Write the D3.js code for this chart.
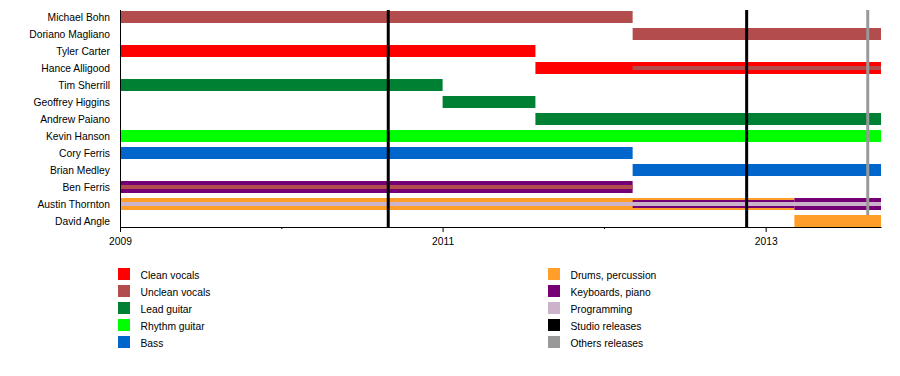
<!DOCTYPE html>
<html>
<head>
<meta charset="utf-8">
<script src="https://cdn.jsdelivr.net/npm/d3@7"></script>
<style>
  html, body { margin: 0; padding: 0; background: #fff; }
  svg { display: block; font-family: "Liberation Sans", Arial, sans-serif; }
</style>
</head>
<body>
<svg id="chart" width="900" height="376"></svg>
<script>
// ---- Data ----
const members = ["Michael Bohn","Doriano Magliano","Tyler Carter","Hance Alligood","Tim Sherrill",
  "Geoffrey Higgins","Andrew Paiano","Kevin Hanson","Cory Ferris","Brian Medley","Ben Ferris",
  "Austin Thornton","David Angle"];

const roles = ["Clean vocals","Unclean vocals","Lead guitar","Rhythm guitar","Bass",
  "Drums, percussion","Keyboards, piano","Programming","Studio releases","Others releases"];

const roleColors = ["#ff0000","#b34d4d","#008033","#00ff00","#0066cc",
  "#ff9f29","#750075","#ccb3cc","#000000","#999999"];

const periodStart = "2009-01-01";
const periodEnd = "2013-09-19";

const majorTickYears = ["2009","2011","2013"];
const minorTickYears = ["2010","2012"];

// member, role, from, till, layer (0 = main bar, 1 = middle, 2 = inner)
const spells = [
  ["Michael Bohn","Unclean vocals","2009-01-01","2012-03-06",0],
  ["Doriano Magliano","Unclean vocals","2012-03-06","2013-09-19",0],
  ["Tyler Carter","Clean vocals","2009-01-01","2011-07-30",0],
  ["Hance Alligood","Clean vocals","2011-07-30","2013-09-19",0],
  ["Hance Alligood","Unclean vocals","2012-03-06","2013-09-19",2],
  ["Tim Sherrill","Lead guitar","2009-01-01","2011-01-01",0],
  ["Geoffrey Higgins","Lead guitar","2011-01-01","2011-07-30",0],
  ["Andrew Paiano","Lead guitar","2011-07-30","2013-09-19",0],
  ["Kevin Hanson","Rhythm guitar","2009-01-01","2013-09-19",0],
  ["Cory Ferris","Bass","2009-01-01","2012-03-06",0],
  ["Brian Medley","Bass","2012-03-06","2013-09-19",0],
  ["Ben Ferris","Keyboards, piano","2009-01-01","2012-03-06",0],
  ["Ben Ferris","Unclean vocals","2009-01-01","2012-03-06",2],
  ["Austin Thornton","Drums, percussion","2009-01-01","2013-03-07",0],
  ["Austin Thornton","Keyboards, piano","2013-03-07","2013-09-19",0],
  ["Austin Thornton","Keyboards, piano","2012-03-06","2013-03-07",1],
  ["Austin Thornton","Programming","2009-01-01","2013-09-19",2],
  ["David Angle","Drums, percussion","2013-03-07","2013-09-19",0]
];

// release lines: date, type
const releases = [
  ["2010-08-31","Studio releases"],
  ["2012-11-19","Studio releases"],
  ["2013-08-20","Others releases"]
];

// ---- Drawing ----
const parse = d3.timeParse("%Y-%m-%d");
const parseYear = d3.timeParse("%Y");
const svg = d3.select("#chart");
const plotLeft = 120, plotRight = 881, plotTop = 10, plotBottom = 227;

const x = d3.scaleTime().domain([parse(periodStart), parse(periodEnd)]).range([plotLeft, plotRight]);
const y = d3.scaleBand().domain(members).range([plotTop - 1.5, plotBottom + 2.5]);
const color = d3.scaleOrdinal().domain(roles).range(roleColors);
const thickness = [12, 8, 4];

// bars
const bars = spells.slice().sort((a, b) => a[4] - b[4]);
svg.append("g").selectAll("rect").data(bars).join("rect")
  .attr("x", d => x(parse(d[2])))
  .attr("width", d => x(parse(d[3])) - x(parse(d[2])))
  .attr("y", d => y(d[0]) + y.bandwidth() / 2 - thickness[d[4]] / 2)
  .attr("height", d => thickness[d[4]])
  .attr("fill", d => color(d[1]));

// release lines
svg.append("g").selectAll("line").data(releases).join("line")
  .attr("x1", d => x(parse(d[0]))).attr("x2", d => x(parse(d[0])))
  .attr("y1", plotTop)
  .attr("y2", d => d[1] === "Studio releases" ? plotBottom : y("David Angle") + y.bandwidth() / 2 - 6)
  .attr("stroke", d => color(d[1]))
  .attr("stroke-width", 3);

// left axis line
svg.append("line").attr("x1", plotLeft + 0.5).attr("x2", plotLeft + 0.5)
  .attr("y1", plotTop).attr("y2", plotBottom).attr("stroke", "#000");

// member labels
svg.append("g").selectAll("text").data(members).join("text")
  .attr("x", 110)
  .attr("y", d => y(d) + y.bandwidth() / 2 + 3.7)
  .attr("text-anchor", "end")
  .attr("font-size", "10.3px")
  .attr("fill", "#000")
  .text(d => d);

// x axis
const minor = d3.axisBottom(x).tickValues(minorTickYears.map(parseYear)).tickSize(2).tickFormat("");
const gMinor = svg.append("g").attr("transform", `translate(0,${plotBottom})`).call(minor);
gMinor.select(".domain").remove();

const major = d3.axisBottom(x).tickValues(majorTickYears.map(parseYear)).tickSize(5)
  .tickFormat(d3.timeFormat("%Y")).tickSizeOuter(0);
const gMajor = svg.append("g").attr("transform", `translate(0,${plotBottom})`).call(major);
gMajor.selectAll("text").attr("font-size", "10.3px")
  .attr("font-family", "Liberation Sans, Arial, sans-serif").attr("dy", "0.95em").attr("fill", "#000");
gMajor.select(".domain").attr("stroke", "#000");

// legend
const legendCols = [
  { x: 118, items: roles.slice(0, 5) },
  { x: 548, items: roles.slice(5) }
];
legendCols.forEach(col => {
  const g = svg.append("g");
  const item = g.selectAll("g").data(col.items).join("g")
    .attr("transform", (d, i) => `translate(${col.x},${268 + i * 17})`);
  item.append("rect").attr("width", 12).attr("height", 12).attr("fill", d => color(d));
  item.append("text").attr("x", 22.5).attr("y", 10.5)
    .attr("font-size", "10.3px").attr("fill", "#000").text(d => d);
});
</script>
</body>
</html>
